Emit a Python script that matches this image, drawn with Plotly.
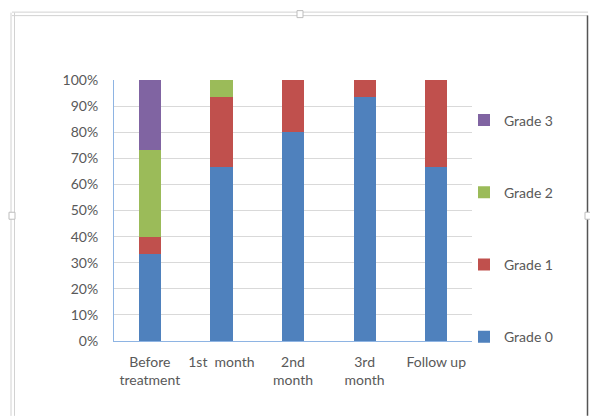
import plotly.graph_objects as go

# Share of patients by grade at each time point
categories = ["Before<br>treatment", "1st  month", "2nd<br>month", "3rd<br>month", "Follow up"]
grade0 = [0.333, 0.667, 0.800, 0.933, 0.667]
grade1 = [0.067, 0.267, 0.200, 0.067, 0.333]
grade2 = [0.333, 0.067, 0.0, 0.0, 0.0]
grade3 = [0.267, 0.0, 0.0, 0.0, 0.0]

series = [
    ("Grade 0", grade0, "#4F81BD"),
    ("Grade 1", grade1, "#C0504D"),
    ("Grade 2", grade2, "#9BBB59"),
    ("Grade 3", grade3, "#8064A2"),
]

W, H = 590, 416
L, R, T, B = 114, 472, 79.5, 341  # plot area in pixels

FONT = "Lato, Open Sans, sans-serif"
TXT = "#595959"

fig = go.Figure()
for i, (name, vals, col) in enumerate(series):
    fig.add_trace(go.Bar(
        x=categories, y=vals, name=name, legendgroup=name,
        legendrank=1000 - i,  # highest grade listed first
        marker=dict(color=col, line=dict(width=0)),
    ))


def px(x):
    return (x - L) / (R - L)


def py(y):
    return (B - y) / (B - T)


shapes = []
frame = "#D2D2D2"
# double frame lines along the top and left edges
for y in (11.5, 15):
    shapes.append(dict(type="line", xref="paper", yref="paper",
                       x0=px(12), x1=px(588), y0=py(y), y1=py(y),
                       line=dict(color=frame, width=1)))
for x in (11, 14.5):
    shapes.append(dict(type="line", xref="paper", yref="paper",
                       x0=px(x), x1=px(x), y0=py(12), y1=py(416),
                       line=dict(color=frame, width=1)))
# dark right edge
shapes.append(dict(type="line", xref="paper", yref="paper",
                   x0=px(587.5), x1=px(587.5), y0=py(15), y1=py(416),
                   line=dict(color="#555555", width=1.5)))
# resize handles
for (x0, y0, x1, y1) in [(297, 10, 303, 17), (9, 212, 15, 219), (585, 212, 591, 219)]:
    shapes.append(dict(type="rect", xref="paper", yref="paper",
                       x0=px(x0), x1=px(x1), y0=py(y0), y1=py(y1),
                       fillcolor="white", line=dict(color="#BDBDBD", width=1)))

fig.update_layout(
    width=W, height=H,
    margin=dict(l=L, r=W - R, t=T, b=H - B, pad=0),
    barmode="stack", bargap=0.69,
    paper_bgcolor="white", plot_bgcolor="white",
    font=dict(family=FONT, size=14, color=TXT),
    showlegend=True,
    legend=dict(
        x=px(464), xanchor="left", y=py(104), yanchor="top",
        traceorder="grouped", tracegroupgap=51,
        font=dict(family=FONT, size=14, color=TXT),
        bgcolor="rgba(0,0,0,0)",
    ),
    shapes=shapes,
    xaxis=dict(
        showgrid=False, showline=True, linecolor="#8EB4E3", linewidth=1,
        ticks="", ticklabelstandoff=8, tickfont=dict(size=14, color=TXT),
        fixedrange=True,
    ),
    yaxis=dict(
        range=[0, 1], tickvals=[i / 10 for i in range(11)], tickformat=".0%",
        showgrid=True, gridcolor="#D9D9D9", gridwidth=1,
        showline=True, linecolor="#8EB4E3", linewidth=1,
        ticks="", ticklabelstandoff=12, tickfont=dict(size=14, color=TXT),
        zeroline=False, fixedrange=True,
    ),
)

fig.write_html("out.html")
